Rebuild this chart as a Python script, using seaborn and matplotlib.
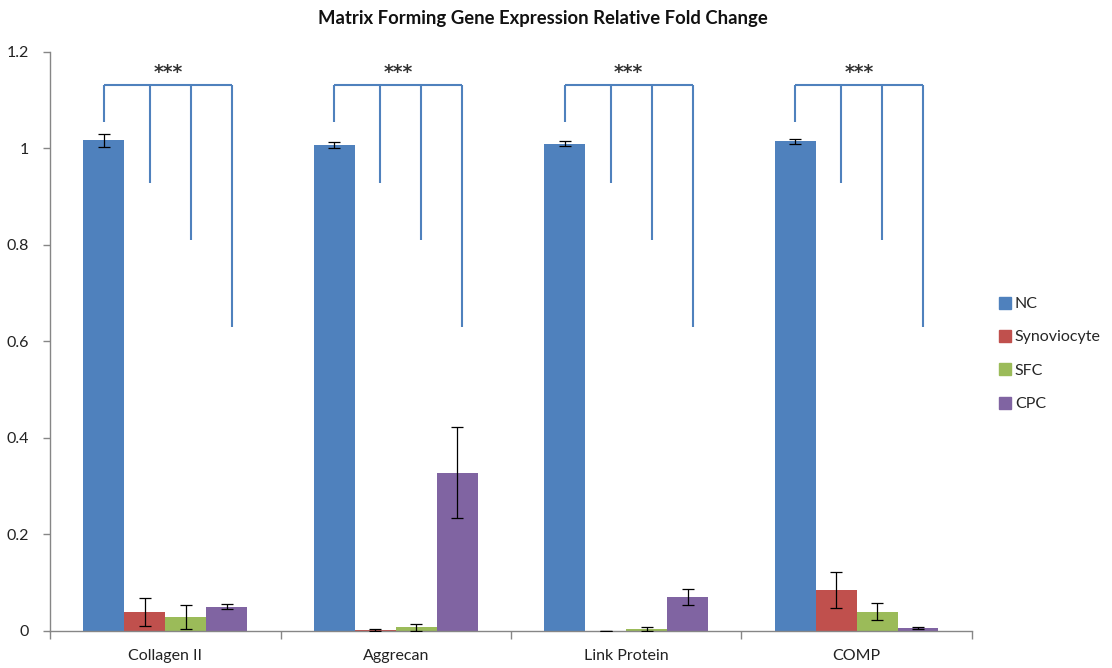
import numpy as np
import pandas as pd
import matplotlib
matplotlib.use("Agg")
import matplotlib.pyplot as plt
import seaborn as sns

# Relative fold change of matrix forming genes per cell type
genes = ["Collagen II", "Aggrecan", "Link Protein", "COMP"]
groups = ["NC", "Synoviocyte", "SFC", "CPC"]
nc = [1.017, 1.008, 1.010, 1.015]
synoviocyte = [0.039, 0.002, 0.001, 0.085]
sfc = [0.029, 0.008, 0.004, 0.040]
cpc = [0.050, 0.328, 0.070, 0.007]
nc_err = [0.013, 0.006, 0.005, 0.005]
synoviocyte_err = [0.029, 0.002, 0.0, 0.038]
sfc_err = [0.025, 0.007, 0.004, 0.017]
cpc_err = [0.005, 0.094, 0.016, 0.002]

# Significance bracket geometry (y levels in data units)
bracket_top = 1.132
leg_ends = [1.055, 0.928, 0.810, 0.630]
star_label = "***"

palette = ["#4F81BD", "#C0504D", "#9BBB59", "#8064A2"]
axis_grey = "#868686"

values = [nc, synoviocyte, sfc, cpc]
errors = [nc_err, synoviocyte_err, sfc_err, cpc_err]
df = pd.DataFrame(
    [(g, grp, v) for grp, vals in zip(groups, values) for g, v in zip(genes, vals)],
    columns=["Gene", "Group", "Fold"],
)

sns.set_style("white")
plt.rcParams["font.family"] = ["Lato", "DejaVu Sans"]

fig = plt.figure(figsize=(11.12, 6.68), dpi=100)
ax = fig.add_axes([0.045, 0.0554, 0.829, 0.8668])

sns.barplot(data=df, x="Gene", y="Fold", hue="Group", order=genes,
            hue_order=groups, palette=palette, width=0.71, errorbar=None,
            saturation=1, linewidth=0, ax=ax)

# Error bars placed on the drawn bars
centers = []
for cont, errs, vals in zip(ax.containers, errors, values):
    xs = [b.get_x() + b.get_width() / 2 for b in cont]
    centers.append(xs)
    ax.errorbar(xs, vals, yerr=errs, fmt="none", ecolor="black",
                elinewidth=0.9, capsize=4, capthick=0.9, zorder=5)

# Significance brackets over each gene
shift = 0.022
for gi in range(len(genes)):
    xs = [centers[0][gi]] + [centers[k][gi] + shift for k in range(1, 4)]
    ax.plot([xs[0], xs[-1]], [bracket_top, bracket_top],
            color=palette[0], lw=1.5, solid_capstyle="butt", zorder=4)
    for x, y0 in zip(xs, leg_ends):
        ax.plot([x, x], [bracket_top, y0], color=palette[0], lw=1.5,
                solid_capstyle="butt", zorder=4)
    ax.text((xs[0] + xs[-1]) / 2, bracket_top + 0.006, star_label,
            ha="center", va="bottom", fontsize=13.5, fontweight="bold",
            family=["DejaVu Sans"], color="#333333")

ax.set_xlim(-0.5, 3.5)
ax.set_ylim(0, 1.2)
ax.set_yticks(np.arange(0, 1.21, 0.2))
ax.set_yticklabels(["0", "0.2", "0.4", "0.6", "0.8", "1", "1.2"])
ax.set_xticks(range(len(genes)))
ax.set_xticklabels(genes)
ax.set_xticks(np.arange(-0.5, 3.6, 1), minor=True)
ax.tick_params(axis="x", which="major", length=0, pad=13, labelsize=11.5,
               labelcolor="#222222")
ax.tick_params(axis="x", which="minor", length=6, width=1, color=axis_grey,
               direction="out", bottom=True)
ax.tick_params(axis="y", length=5, width=1, color=axis_grey, direction="out",
               left=True, pad=10, labelsize=11.5, labelcolor="#222222")
ax.set_xlabel("")
ax.set_ylabel("")
for side in ["top", "right"]:
    ax.spines[side].set_visible(False)
for side in ["left", "bottom"]:
    ax.spines[side].set_color(axis_grey)
    ax.spines[side].set_linewidth(1)

handles = [plt.Line2D([], [], marker="s", linestyle="none", markersize=8,
                      markerfacecolor=c, markeredgecolor=c) for c in palette]
ax.legend(handles, groups, loc="center left", bbox_to_anchor=(0.884, 0.47),
          bbox_transform=fig.transFigure, frameon=False, fontsize=11.5,
          handletextpad=0.1, labelspacing=1.2, handlelength=1.0)

fig.suptitle("Matrix Forming Gene Expression Relative Fold Change",
             x=0.488, y=0.985, fontsize=13.3, fontweight="bold", color="#111111")

fig.savefig("out.png", dpi=100, facecolor="white")
